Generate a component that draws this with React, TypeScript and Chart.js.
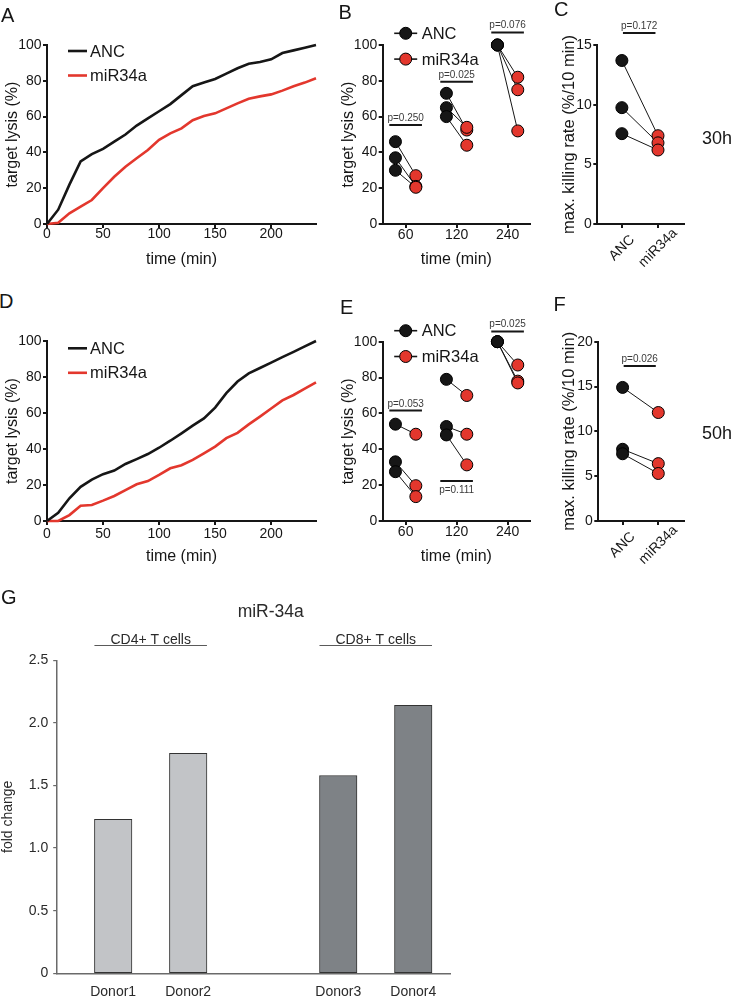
import React, { useEffect, useRef } from 'react';
import { Chart, registerables } from 'chart.js';

Chart.register(...registerables);

const FONT = '"Liberation Sans", Arial, Helvetica, sans-serif';
const INK = '#161616';
const RED = '#e3372d';

// ---------- A / D : lysis kinetics ----------
const timeMin = [0, 10, 20, 30, 40, 50, 60, 70, 80, 90, 100, 110, 120, 130, 140, 150, 160, 170, 180, 190, 200, 210, 220, 230, 240];
const kinetics30hANC = [0, 8, 22, 35, 39, 42, 46, 50, 55, 59, 63, 67, 72, 77, 79, 81, 84, 87, 89.5, 90.5, 92, 95.5, 97, 98.5, 100];
const kinetics30hMiR = [0, 0.7, 6, 9.7, 13.4, 20, 26.4, 32, 36.7, 41.3, 47, 50.6, 53.4, 58, 60.3, 61.8, 64.6, 67.4, 70, 71.3, 72.4, 74.5, 77, 79, 81.4];
const kinetics50hANC = [0, 4.6, 12.6, 19, 23, 26, 28, 31.7, 34.4, 37.2, 40.7, 44.6, 48.7, 53, 57, 63, 71, 77.5, 82, 85, 88, 91, 94, 97, 100];
const kinetics50hMiR = [0, 0, 3.3, 8.5, 8.9, 11.3, 13.9, 17.2, 20.4, 22.2, 25.6, 29.3, 31, 34, 37.6, 41.3, 46, 49, 53.7, 58, 62.5, 67, 70, 73.5, 77];
const seriesNames = ['ANC', 'miR34a'];

// ---------- B / E : lysis at time points (per time point, 3 donors) ----------
const pointTimes = ['60', '120', '240'];
const points30hANC = [[46, 37, 30], [73, 65, 60], [100, 100, 100]];
const points30hMiR = [[27, 21, 20.5], [52.5, 54, 44], [82, 75, 52]];
const points30hP = ['p=0.250', 'p=0.025', 'p=0.076'];
const points30hPLevel = [55.3, 79.5, 107];
const points30hPBelow = [false, false, false];

const points50hANC = [[54, 33, 27.5], [79, 52.7, 48], [100, 100, 100]];
const points50hMiR = [[48.4, 19.7, 13.6], [70, 48.4, 31.3], [87, 78, 77]];
const points50hP = ['p=0.053', 'p=0.111', 'p=0.025'];
const points50hPLevel = [61.6, 22.3, 105.7];
const points50hPBelow = [false, true, false];

// ---------- C / F : max. killing rate ----------
const rateGroups = ['ANC', 'miR34a'];
const rate30hANC = [13.7, 9.75, 7.57];
const rate30hMiR = [7.4, 6.8, 6.2];
const rate30hP = 'p=0.172';
const rate30hPLevel = 16;
const rate50hANC = [14.9, 8.0, 7.5];
const rate50hMiR = [12.1, 6.4, 5.3];
const rate50hP = 'p=0.026';
const rate50hPLevel = 17.3;

// ---------- G : miR-34a fold change ----------
const gTitle = 'miR-34a';
const donors = ['Donor1', 'Donor2', '', 'Donor3', 'Donor4'];
const foldChange = [1.23, 1.757, null, 1.58, 2.14];
const cellGroups = ['CD4+ T cells', 'CD8+ T cells'];
const cellGroupMembers = [['Donor1', 'Donor2'], ['Donor3', 'Donor4']];

// ---------------- plugins ----------------
const lineKeyPlugin: any = {
  id: 'lineKey',
  afterDatasetsDraw(chart: any, _a: any, opts: any) {
    const { ctx, chartArea } = chart;
    ctx.save();
    chart.data.datasets.forEach((ds: any, i: number) => {
      const y = chartArea.top + opts.dy + i * opts.gap;
      ctx.strokeStyle = ds.borderColor;
      ctx.lineWidth = 2.6;
      ctx.beginPath();
      ctx.moveTo(chartArea.left + opts.x0, y);
      ctx.lineTo(chartArea.left + opts.x1, y);
      ctx.stroke();
      ctx.fillStyle = INK;
      ctx.font = `16.5px ${FONT}`;
      ctx.textAlign = 'left';
      ctx.textBaseline = 'middle';
      ctx.fillText(ds.label, chartArea.left + opts.tx, y + 1);
    });
    ctx.restore();
  },
};

const dotKeyPlugin: any = {
  id: 'dotKey',
  afterDatasetsDraw(chart: any, _a: any, opts: any) {
    if (!opts || !opts.show) return;
    const { ctx, chartArea } = chart;
    const keyed = chart.data.datasets.filter((ds: any) => ds.label);
    ctx.save();
    keyed.forEach((ds: any, i: number) => {
      const cx = chartArea.left + opts.cx;
      const cy = chartArea.top + opts.dy + i * opts.gap;
      ctx.strokeStyle = INK;
      ctx.lineWidth = 1.6;
      ctx.beginPath();
      ctx.moveTo(cx - opts.half, cy);
      ctx.lineTo(cx + opts.half, cy);
      ctx.stroke();
      ctx.beginPath();
      ctx.arc(cx, cy, 6, 0, Math.PI * 2);
      ctx.fillStyle = ds.pointBackgroundColor;
      ctx.fill();
      ctx.lineWidth = 1;
      ctx.strokeStyle = '#000';
      ctx.stroke();
      ctx.fillStyle = INK;
      ctx.font = `16.5px ${FONT}`;
      ctx.textAlign = 'left';
      ctx.textBaseline = 'middle';
      ctx.fillText(ds.label, chartArea.left + opts.tx, cy + 1);
    });
    ctx.restore();
  },
};

const pBarPlugin: any = {
  id: 'pBars',
  afterDatasetsDraw(chart: any, _a: any, opts: any) {
    const { ctx } = chart;
    const xs = chart.scales.x;
    const ys = chart.scales.y;
    ctx.save();
    (opts.items || []).forEach((it: any) => {
      const x0 = xs.getPixelForValue(it.x0);
      const x1 = xs.getPixelForValue(it.x1);
      const y = ys.getPixelForValue(it.y);
      ctx.strokeStyle = INK;
      ctx.lineWidth = 2;
      ctx.beginPath();
      ctx.moveTo(x0, y);
      ctx.lineTo(x1, y);
      ctx.stroke();
      ctx.fillStyle = '#3a3a3a';
      ctx.font = `10px ${FONT}`;
      ctx.textAlign = 'center';
      ctx.textBaseline = it.below ? 'top' : 'alphabetic';
      ctx.fillText(it.text, (x0 + x1) / 2, it.below ? y + 4 : y - 4);
    });
    ctx.restore();
  },
};

// rotated category labels, centred under their tick (GraphPad style)
const rotLabelPlugin: any = {
  id: 'rotLabels',
  afterDraw(chart: any, _a: any, opts: any) {
    if (!opts || !opts.labels) return;
    const { ctx } = chart;
    const xs = chart.scales.x;
    ctx.save();
    ctx.fillStyle = INK;
    ctx.font = `14px ${FONT}`;
    ctx.textAlign = 'center';
    ctx.textBaseline = 'middle';
    opts.labels.forEach((lab: string, i: number) => {
      const x = xs.getPixelForValue(i) + opts.dx;
      const y = xs.top + opts.dy;
      ctx.save();
      ctx.translate(x, y);
      ctx.rotate(-Math.PI / 4);
      ctx.fillText(lab, 0, 0);
      ctx.restore();
    });
    ctx.restore();
  },
};

const cellGroupPlugin: any = {
  id: 'cellGroups',
  afterDraw(chart: any, _a: any, opts: any) {
    const { ctx } = chart;
    const xs = chart.scales.x;
    ctx.save();
    cellGroups.forEach((label, g) => {
      const idx = cellGroupMembers[g].map((d) => donors.indexOf(d));
      const x0 = xs.getPixelForValue(Math.min(...idx)) - opts.half;
      const x1 = xs.getPixelForValue(Math.max(...idx)) + opts.half;
      ctx.strokeStyle = '#5a5a5a';
      ctx.lineWidth = 1;
      ctx.beginPath();
      ctx.moveTo(x0, opts.lineY);
      ctx.lineTo(x1, opts.lineY);
      ctx.stroke();
      ctx.fillStyle = '#2a2a2a';
      ctx.font = `14px ${FONT}`;
      ctx.textAlign = 'center';
      ctx.textBaseline = 'alphabetic';
      ctx.fillText(label, (x0 + x1) / 2, opts.textY);
    });
    ctx.fillStyle = '#2a2a2a';
    ctx.font = `17.5px ${FONT}`;
    ctx.textAlign = 'center';
    ctx.textBaseline = 'alphabetic';
    ctx.fillText(gTitle, opts.titleX, opts.titleY);
    ctx.restore();
  },
};

// ---------------- helpers ----------------
const tickFont = { family: FONT, size: 14, lineHeight: 1 };

function axisStyle(color: string, width: number, tickLen: number) {
  return {
    border: { display: true, color, width },
    grid: { display: true, drawOnChartArea: false, drawTicks: true, tickLength: tickLen, color, lineWidth: width },
  };
}

function yAxis(min: number, max: number, step: number, width: number, title: string, titleSize: number, titlePad: number) {
  return {
    type: 'linear',
    min,
    max,
    afterFit: (s: any) => {
      s.width = width;
    },
    ...axisStyle(INK, 2, 4),
    ticks: { stepSize: step, padding: 1.5, color: INK, font: tickFont },
    title: {
      display: true,
      text: title,
      color: INK,
      font: { family: FONT, size: titleSize, lineHeight: 1.2 },
      padding: { top: titlePad, bottom: 0 },
    },
  };
}

type Frame = {
  padTop: number;
  padRight: number;
  yW: number;
  xH: number;
  xTitlePad: number;
  yTitlePad: number;
  xTickPad: number;
};

function kineticsConfig(anc: number[], mir: number[], f: Frame, keyDy: number) {
  return {
    type: 'line',
    data: {
      datasets: [
        { label: seriesNames[0], data: timeMin.map((t, i) => ({ x: t, y: anc[i] })), borderColor: INK, borderWidth: 2.6, pointRadius: 0, tension: 0, clip: false },
        { label: seriesNames[1], data: timeMin.map((t, i) => ({ x: t, y: mir[i] })), borderColor: RED, borderWidth: 2.6, pointRadius: 0, tension: 0, clip: false },
      ],
    },
    options: {
      responsive: false,
      animation: false,
      events: [],
      layout: { padding: { top: f.padTop, right: f.padRight, bottom: 0, left: 0 } },
      plugins: {
        legend: { display: false },
        tooltip: { enabled: false },
        lineKey: { dy: keyDy, gap: 24.5, x0: 21, x1: 40, tx: 43 },
      },
      scales: {
        x: {
          type: 'linear',
          min: 0,
          max: 240,
          afterFit: (s: any) => {
            s.height = f.xH;
          },
          ...axisStyle(INK, 2, 4),
          ticks: { stepSize: 50, includeBounds: false, padding: f.xTickPad, color: INK, font: tickFont, maxRotation: 0, autoSkip: false },
          title: { display: true, text: 'time (min)', color: INK, font: { family: FONT, size: 16, lineHeight: 1.2 }, padding: { top: 0, bottom: f.xTitlePad } },
        },
        y: yAxis(0, 100, 20, f.yW, 'target lysis (%)', 16, f.yTitlePad),
      },
    },
    plugins: [lineKeyPlugin],
  };
}

const OFF = 0.2;

function dotStyle(color: string) {
  return {
    pointRadius: 6,
    pointBackgroundColor: color,
    pointBorderColor: '#000',
    pointBorderWidth: 1,
    showLine: false,
    order: 0,
    clip: false,
  };
}

function pointsConfig(anc: number[][], mir: number[][], pTexts: string[], pLevels: number[], pBelow: boolean[], f: Frame, keyDy: number) {
  const donorCount = anc[0].length;
  const connectors = Array.from({ length: donorCount }, (_, d) => ({
    data: anc.flatMap((vals, g) => [
      { x: g - OFF, y: vals[d] },
      { x: g + OFF, y: mir[g][d] },
      { x: g + 0.5, y: null },
    ]),
    showLine: true,
    spanGaps: false,
    borderColor: INK,
    borderWidth: 1,
    pointRadius: 0,
    order: 1,
    clip: false,
  }));
  return {
    type: 'scatter',
    data: {
      datasets: [
        { label: seriesNames[0], data: anc.flatMap((vals, g) => vals.map((v) => ({ x: g - OFF, y: v }))), ...dotStyle(INK) },
        { label: seriesNames[1], data: mir.flatMap((vals, g) => vals.map((v) => ({ x: g + OFF, y: v }))), ...dotStyle(RED) },
        ...connectors,
      ],
    },
    options: {
      responsive: false,
      animation: false,
      events: [],
      layout: { padding: { top: f.padTop, right: f.padRight, bottom: 0, left: 0 } },
      plugins: {
        legend: { display: false },
        tooltip: { enabled: false },
        dotKey: { show: true, cx: 23, half: 11.5, dy: keyDy, gap: 25.8, tx: 39 },
        pBars: {
          items: pointTimes.map((_, g) => ({ x0: g - 0.32, x1: g + 0.32, y: pLevels[g], text: pTexts[g], below: pBelow[g] })),
        },
      },
      scales: {
        x: {
          type: 'linear',
          min: -0.45,
          max: 2.44,
          afterFit: (s: any) => {
            s.height = f.xH;
          },
          afterBuildTicks: (s: any) => {
            s.ticks = pointTimes.map((_, i) => ({ value: i }));
          },
          ...axisStyle(INK, 2, 4),
          ticks: {
            padding: f.xTickPad,
            color: INK,
            font: tickFont,
            maxRotation: 0,
            autoSkip: false,
            callback: (_v: any, i: number) => pointTimes[i],
          },
          title: { display: true, text: 'time (min)', color: INK, font: { family: FONT, size: 16, lineHeight: 1.2 }, padding: { top: 0, bottom: f.xTitlePad } },
        },
        y: yAxis(0, 100, 20, f.yW, 'target lysis (%)', 16, f.yTitlePad),
      },
    },
    plugins: [dotKeyPlugin, pBarPlugin],
  };
}

function rateConfig(anc: number[], mir: number[], yMax: number, pText: string, pLevel: number, f: Frame) {
  const connectors = anc.map((v, d) => ({
    data: [
      { x: 0, y: v },
      { x: 1, y: mir[d] },
    ],
    showLine: true,
    borderColor: INK,
    borderWidth: 1,
    pointRadius: 0,
    order: 1,
    clip: false,
  }));
  return {
    type: 'scatter',
    data: {
      datasets: [
        { data: anc.map((v) => ({ x: 0, y: v })), ...dotStyle(INK) },
        { data: mir.map((v) => ({ x: 1, y: v })), ...dotStyle(RED) },
        ...connectors,
      ],
    },
    options: {
      responsive: false,
      animation: false,
      events: [],
      layout: { padding: { top: f.padTop, right: f.padRight, bottom: 0, left: 0 } },
      plugins: {
        legend: { display: false },
        tooltip: { enabled: false },
        pBars: { items: [{ x0: 0.03, x1: 0.93, y: pLevel, text: pText, below: false }] },
        rotLabels: { labels: rateGroups, dx: 0, dy: 24 },
      },
      scales: {
        x: {
          type: 'linear',
          min: -0.68,
          max: 1.72,
          afterFit: (s: any) => {
            s.height = f.xH;
          },
          afterBuildTicks: (s: any) => {
            s.ticks = rateGroups.map((_, i) => ({ value: i }));
          },
          ...axisStyle(INK, 2, 4),
          ticks: {
            padding: f.xTickPad,
            color: 'rgba(0,0,0,0)',
            font: tickFont,
            minRotation: 45,
            maxRotation: 45,
            autoSkip: false,
            callback: (_v: any, i: number) => rateGroups[i],
          },
        },
        y: yAxis(0, yMax, 5, f.yW, 'max. killing rate (%/10 min)', 16.5, f.yTitlePad),
      },
    },
    plugins: [pBarPlugin, rotLabelPlugin],
  };
}

function foldConfig() {
  const isCD8 = (name: string) => cellGroupMembers[1].includes(name);
  const pts = donors
    .map((d, i) => ({ d, i, v: foldChange[i] }))
    .filter((p) => p.d !== '' && p.v !== null);
  return {
    type: 'bar',
    data: {
      datasets: [
        {
          data: pts.map((p) => ({ x: p.i, y: p.v })),
          backgroundColor: pts.map((p) => (isCD8(p.d) ? '#7e8286' : '#c2c4c7')),
          borderColor: '#333',
          borderWidth: 1,
          borderSkipped: false,
          barThickness: 37.5,
        },
      ],
    },
    options: {
      responsive: false,
      animation: false,
      events: [],
      layout: { padding: { top: 60.3, right: 284, bottom: 0, left: 0 } },
      plugins: {
        legend: { display: false },
        tooltip: { enabled: false },
        cellGroups: { half: 18.75, lineY: 45.5, textY: 43.5, titleX: 270.7, titleY: 17 },
      },
      scales: {
        x: {
          type: 'linear',
          offset: false,
          min: -0.753,
          max: 4.49,
          afterFit: (s: any) => {
            s.height = 23.7;
          },
          afterBuildTicks: (s: any) => {
            s.ticks = donors.map((d, i) => ({ value: i, d })).filter((t) => t.d !== '').map((t) => ({ value: t.value }));
          },
          border: { display: true, color: '#6a6a6a', width: 1.5 },
          grid: { display: false, drawTicks: false, offset: false },
          ticks: {
            padding: 12,
            color: '#2a2a2a',
            font: tickFont,
            maxRotation: 0,
            autoSkip: false,
            callback: (v: any) => donors[v],
          },
        },
        y: {
          type: 'linear',
          min: 0,
          max: 2.5,
          afterFit: (s: any) => {
            s.width = 56.7;
          },
          border: { display: true, color: '#6a6a6a', width: 1.5 },
          grid: { display: true, drawOnChartArea: false, drawTicks: true, tickLength: 3.5, color: '#6a6a6a', lineWidth: 1.2 },
          ticks: {
            stepSize: 0.5,
            padding: 5,
            color: '#2a2a2a',
            font: tickFont,
            callback: (v: any) => (v === 0 ? '0' : Number(v).toFixed(1)),
          },
          title: {
            display: true,
            text: 'fold change',
            color: '#2a2a2a',
            font: { family: FONT, size: 14, lineHeight: 1.2 },
            padding: { top: 0, bottom: 0 },
          },
        },
      },
    },
    plugins: [cellGroupPlugin],
  };
}

// ---------------- components ----------------
function PanelCanvas({ left, top, width, height, build }: { left: number; top: number; width: number; height: number; build: () => any }) {
  const ref = useRef<HTMLCanvasElement | null>(null);
  useEffect(() => {
    if (!ref.current) return;
    const chart = new Chart(ref.current, build());
    return () => chart.destroy();
  }, []);
  return <canvas ref={ref} width={width} height={height} style={{ position: 'absolute', left, top, width, height }} />;
}

function Label({ text, left, top, size }: { text: string; left: number; top: number; size: number }) {
  return (
    <div
      style={{
        position: 'absolute',
        left,
        top,
        fontFamily: FONT,
        fontSize: size,
        lineHeight: `${size}px`,
        color: INK,
        whiteSpace: 'nowrap',
      }}
    >
      {text}
    </div>
  );
}

const frameA: Frame = { padTop: 20, padRight: 14, yW: 47, xH: 56, xTitlePad: 10.4, yTitlePad: 3.4, xTickPad: -1 };
const frameB: Frame = { padTop: 45, padRight: 10, yW: 47.7, xH: 56, xTitlePad: 10.4, yTitlePad: 4.4, xTickPad: 0 };
const frameC: Frame = { padTop: 45, padRight: 50, yW: 57.3, xH: 56, xTitlePad: 0, yTitlePad: 19.1, xTickPad: 0 };
const frameD: Frame = { padTop: 21, padRight: 14, yW: 47, xH: 59, xTitlePad: 13.4, yTitlePad: 3.4, xTickPad: 2.5 };
const frameE: Frame = { padTop: 41.7, padRight: 10, yW: 47.7, xH: 59, xTitlePad: 13.4, yTitlePad: 4.4, xTickPad: 0.5 };
const frameF: Frame = { padTop: 41.7, padRight: 50, yW: 58.3, xH: 59, xTitlePad: 0, yTitlePad: 19.1, xTickPad: 0 };

export default function App() {
  return (
    <div style={{ position: 'absolute', left: 0, top: 0, width: 734, height: 997, background: '#fff', overflow: 'hidden' }}>
      <PanelCanvas left={0} top={25} width={330} height={255} build={() => kineticsConfig(kinetics30hANC, kinetics30hMiR, frameA, 6)} />
      <PanelCanvas left={335} top={0} width={205} height={280} build={() => pointsConfig(points30hANC, points30hMiR, points30hP, points30hPLevel, points30hPBelow, frameB, -11.7)} />
      <PanelCanvas left={540} top={0} width={194} height={280} build={() => rateConfig(rate30hANC, rate30hMiR, 15, rate30hP, rate30hPLevel, frameC)} />
      <PanelCanvas left={0} top={320} width={330} height={260} build={() => kineticsConfig(kinetics50hANC, kinetics50hMiR, frameD, 7.3)} />
      <PanelCanvas left={335} top={300} width={205} height={280} build={() => pointsConfig(points50hANC, points50hMiR, points50hP, points50hPLevel, points50hPBelow, frameE, -11)} />
      <PanelCanvas left={540} top={300} width={194} height={280} build={() => rateConfig(rate50hANC, rate50hMiR, 20, rate50hP, rate50hPLevel, frameF)} />
      <PanelCanvas left={0} top={600} width={734} height={397} build={foldConfig} />

      <Label text="A" left={1} top={5} size={20} />
      <Label text="B" left={338.4} top={2.4} size={20} />
      <Label text="C" left={554} top={-1} size={20} />
      <Label text="D" left={-1} top={291} size={20} />
      <Label text="E" left={340} top={296.7} size={20} />
      <Label text="F" left={553.5} top={294} size={20} />
      <Label text="G" left={1} top={587.4} size={20} />
      <Label text="30h" left={702} top={129.4} size={18} />
      <Label text="50h" left={702} top={424.4} size={18} />
    </div>
  );
}
